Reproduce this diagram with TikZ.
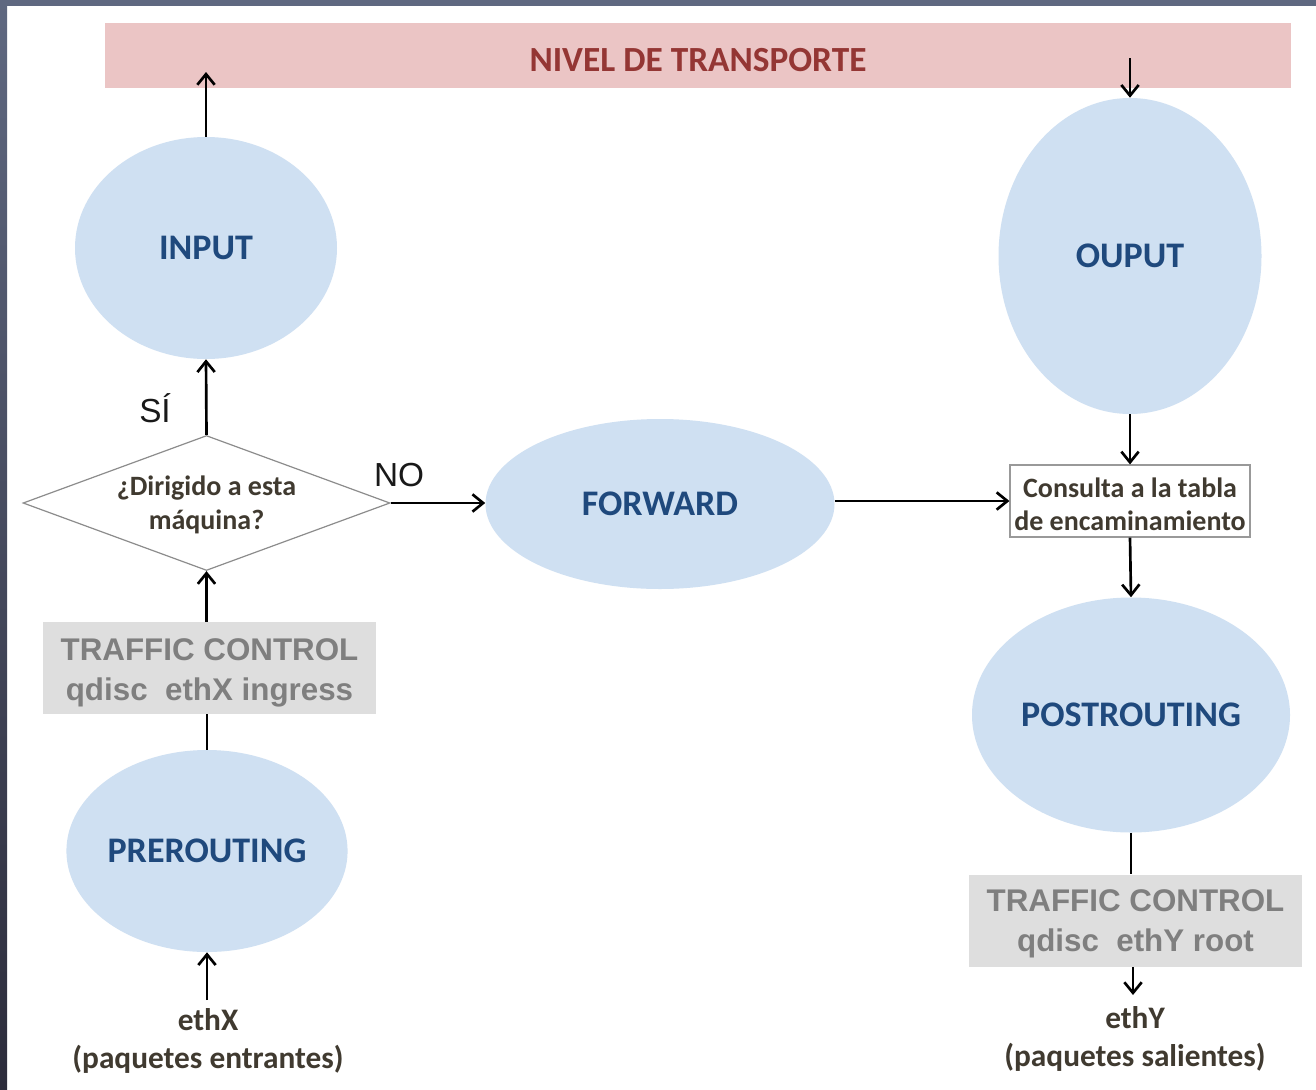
\documentclass[tikz,border=0pt]{standalone}
\usepackage{fontspec}
\setmainfont{Carlito}
\newfontfamily\arialf{Liberation Sans}
\usetikzlibrary{shapes.geometric,arrows.meta}
\definecolor{frameA}{HTML}{5F6880}
\definecolor{frameB}{HTML}{2C2C3B}
\definecolor{barfill}{HTML}{EBC5C5}
\definecolor{bartext}{HTML}{943634}
\definecolor{ellfill}{HTML}{CFE0F2}
\definecolor{elltext}{HTML}{1F497D}
\definecolor{tcfill}{HTML}{DEDEDE}
\definecolor{tctext}{HTML}{7F7F7F}
\definecolor{lbltext}{HTML}{403A30}
\tikzset{
  ell/.style={ellipse, fill=ellfill, draw=none, inner sep=0pt, text=elltext,
    font=\fontsize{27pt}{30pt}\selectfont\bfseries},
  tcbox/.style={rectangle, fill=tcfill, draw=none, inner sep=0pt,
    minimum width=249.75pt, minimum height=69pt},
  tctxt/.style={text=tctext, align=center,
    font=\arialf\fontsize{23.5pt}{30pt}\selectfont\bfseries},
  smalltxt/.style={text=lbltext, align=center, font=\fontsize{21pt}{25pt}\selectfont\bfseries},
  bigtxt/.style={text=lbltext, align=center, font=\fontsize{23.5pt}{28pt}\selectfont\bfseries},
  arr/.style={-{Straight Barb[length=8pt,width=13pt,line width=2pt]}, line width=2pt, black},
  ln/.style={line width=2pt, black},
  yesno/.style={text=black!90, font=\arialf\fontsize{25pt}{28pt}\selectfont}
}
\begin{document}
\begin{tikzpicture}[x=0.75pt,y=-0.75pt]
\useasboundingbox (0,0) rectangle (1316,1089);
\fill[white] (0,0) rectangle (1316,1089);
% frame
\shade[top color=frameA, bottom color=frameB] (0,0) rectangle (7,1089);
\fill[frameA] (0,0) rectangle (1316,6);
% transport bar
\node[rectangle, fill=barfill, inner sep=0pt, minimum width=889.5pt, minimum height=48.75pt] (bar) at (698,55.5) {};
\node[text=bartext, font=\fontsize{26.5pt}{30pt}\selectfont\bfseries] (bartxt) at (698,60) {NIVEL DE TRANSPORTE};
% ellipses
\node[ell, minimum width=196.5pt, minimum height=166.5pt] (input) at (206,248) {INPUT};
\node[ell, minimum width=197.25pt, minimum height=237pt] (ouput) at (1130,256) {OUPUT};
\node[ell, minimum width=261.75pt, minimum height=127.5pt] (fwd) at (660,504) {FORWARD};
\node[ell, minimum width=208.5pt, minimum height=151.5pt] (pre) at (207,851) {PREROUTING};
\node[ell, minimum width=238.5pt, minimum height=176.25pt] (post) at (1131,715) {POSTROUTING};
% diamond
\node[diamond, draw=black!45, line width=0.9pt, fill=white, inner sep=0pt,
  minimum width=275.25pt, minimum height=101.25pt] (dia) at (206.5,503) {};
\node[smalltxt] (diatxt) at (206.5,505) {¿Dirigido a esta\\máquina?};
% consulta box
\node[rectangle, draw=black!40, line width=0.9pt, fill=white, inner sep=0pt,
  minimum width=180pt, minimum height=54pt] (cons) at (1130,501) {};
\node[smalltxt] (constxt) at (1130,504) {Consulta a la tabla\\de encaminamiento};
% traffic control boxes
\node[tcbox] (tcl) at (209.5,668) {};
\node[tctxt] (tcltxt) at (209.5,673) {TRAFFIC CONTROL\\qdisc\ \ ethX ingress};
\node[tcbox] (tcr) at (1135.5,920.5) {};
\node[tctxt] (tcrtxt) at (1135.5,924) {TRAFFIC CONTROL\\qdisc\ \ ethY root};
% bottom labels
\node[bigtxt] (ethx) at (208,1041) {ethX\\(paquetes entrantes)};
\node[bigtxt] (ethy) at (1135,1039) {ethY\\(paquetes salientes)};
% yes/no
\node[yesno] (si) at (155,408) {SÍ};
\node[yesno] (no) at (399,475) {NO};
% coordinates
\coordinate (barin) at (206,72);
\coordinate (barout) at (1130,58);
\coordinate (ethyend) at (1133,995);
\coordinate (ethxstart) at (207,1000);
% connectors
\draw[arr] (input.north) -- (barin);
\draw[arr] (barout) -- (ouput.north);
\draw[arr] (ouput.south) -- (cons.north);
\draw[arr] (cons.south) -- (post.north);
\draw[ln] (post.south) -- (post.south |- tcr.north);
\draw[arr] (tcr.south -| ethyend) -- (ethyend);
\draw[arr] (ethxstart) -- (pre.south);
\draw[ln] (pre.north) -- (pre.north |- tcl.south);
\draw[arr] (tcl.north -| dia.south) -- (dia.south);
\draw[arr] (dia.north) -- (input.south);
\draw[arr] (dia.east) -- (dia.east -| fwd.west);
\draw[arr] (fwd.east |- cons.west) -- (cons.west);
\end{tikzpicture}
\end{document}
